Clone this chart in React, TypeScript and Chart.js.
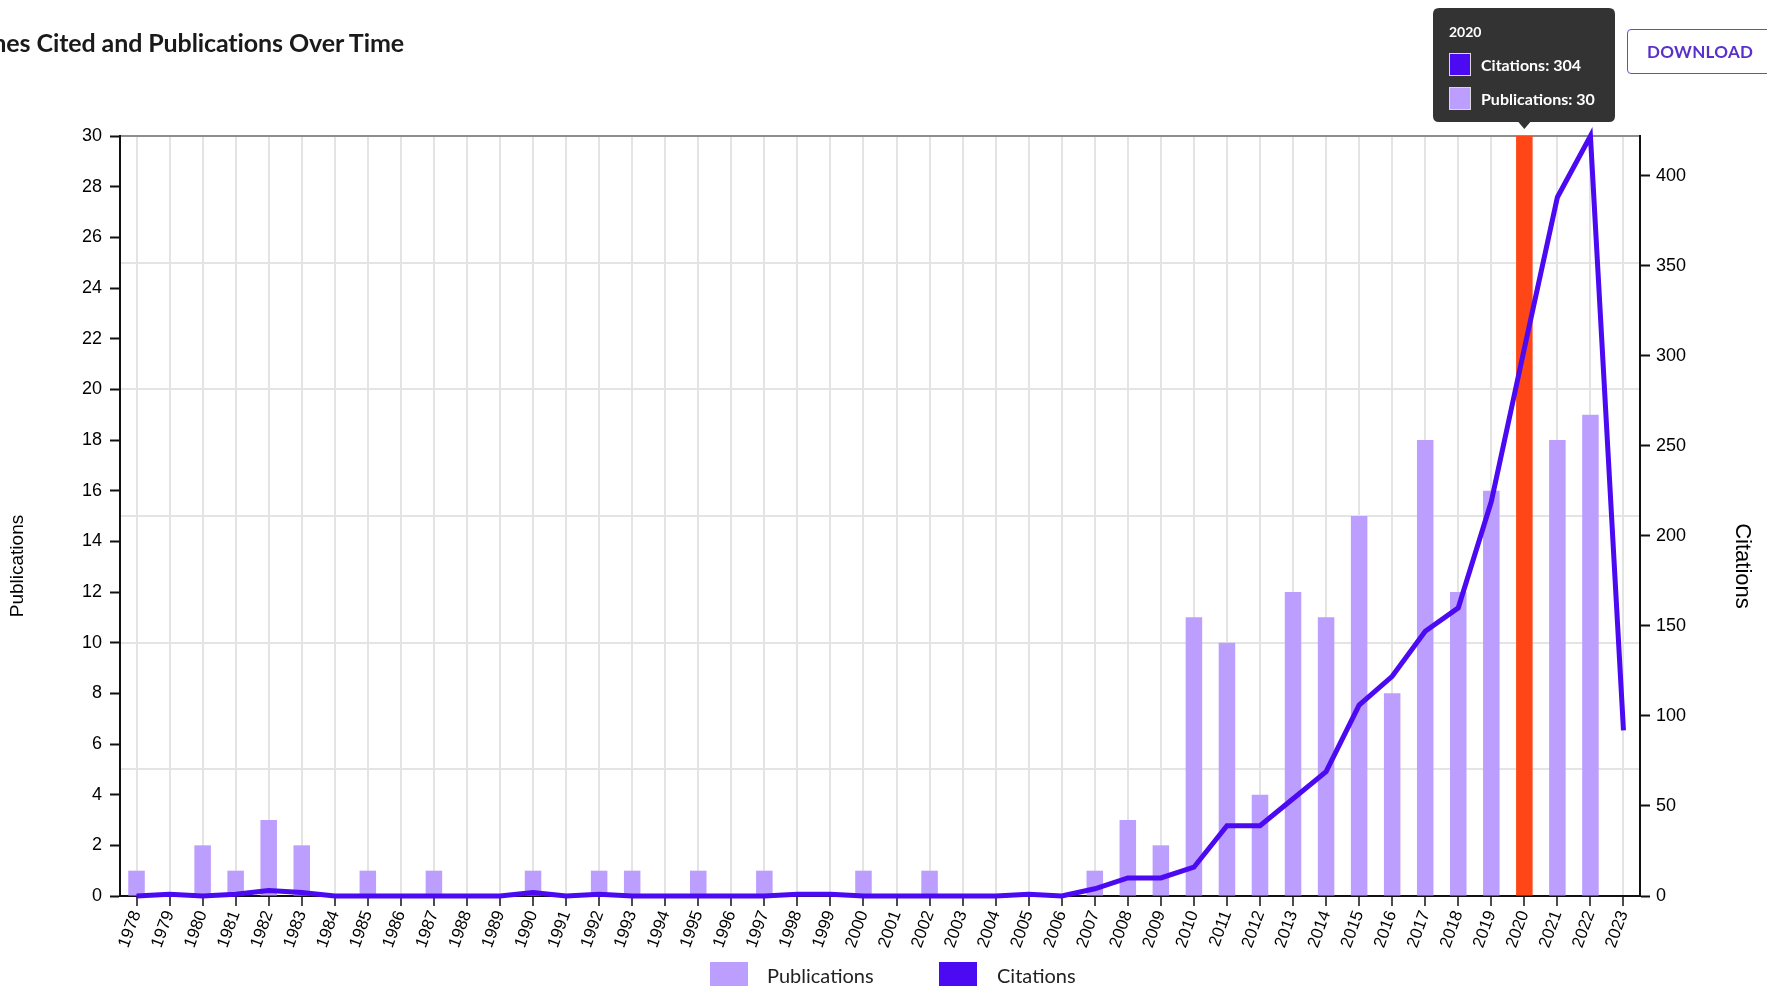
import React, { useEffect, useRef } from "react";
import { Chart, registerables } from "chart.js";

Chart.register(...registerables);

const years = [
  "1978", "1979", "1980", "1981", "1982", "1983", "1984", "1985", "1986", "1987",
  "1988", "1989", "1990", "1991", "1992", "1993", "1994", "1995", "1996", "1997",
  "1998", "1999", "2000", "2001", "2002", "2003", "2004", "2005", "2006", "2007",
  "2008", "2009", "2010", "2011", "2012", "2013", "2014", "2015", "2016", "2017",
  "2018", "2019", "2020", "2021", "2022", "2023",
];

const publications = [
  1, 0, 2, 1, 3, 2, 0, 1, 0, 1,
  0, 0, 1, 0, 1, 1, 0, 1, 0, 1,
  0, 0, 1, 0, 1, 0, 0, 0, 0, 1,
  3, 2, 11, 10, 4, 12, 11, 15, 8, 18,
  12, 16, 30, 18, 19, 0,
];

const citations = [
  0, 1, 0, 1, 3, 2, 0, 0, 0, 0,
  0, 0, 2, 0, 1, 0, 0, 0, 0, 0,
  1, 1, 0, 0, 0, 0, 0, 1, 0, 4,
  10, 10, 16, 39, 39, 54, 69, 106, 122, 147,
  160, 219, 304, 388, 422, 92,
];

const selectedYear = "2020";
const pubMax = 30;
const pubStep = 2;
const pubGridStep = 5;
const citStep = 50;

const TITLE = "Times Cited and Publications Over Time";
const PUB_COLOR = "#bc9eff";
const SEL_COLOR = "#ff4616";
const CIT_COLOR = "#4b0af2";

const overlayPlugin = {
  id: "overlay",
  afterDraw(chart: any) {
    const ctx = chart.ctx;
    ctx.save();
    // axis titles
    ctx.fillStyle = "#000";
    ctx.textAlign = "center";
    ctx.textBaseline = "middle";
    ctx.font = "19px 'Liberation Sans', Arial, sans-serif";
    ctx.save();
    ctx.translate(18, 566);
    ctx.rotate(-Math.PI / 2);
    ctx.fillText("Publications", 0, 0);
    ctx.restore();
    ctx.font = "22px 'Liberation Sans', Arial, sans-serif";
    ctx.save();
    ctx.translate(1742, 566);
    ctx.rotate(Math.PI / 2);
    ctx.fillText("Citations", 0, 0);
    ctx.restore();

    // legend
    ctx.textAlign = "left";
    ctx.textBaseline = "alphabetic";
    ctx.font = "20px Lato, 'Noto Sans', sans-serif";
    ctx.fillStyle = PUB_COLOR;
    ctx.fillRect(710, 962, 38, 30);
    ctx.fillStyle = "#222";
    ctx.fillText("Publications", 767, 983);
    ctx.fillStyle = CIT_COLOR;
    ctx.fillRect(939, 962, 38, 30);
    ctx.fillStyle = "#222";
    ctx.fillText("Citations", 997, 983);

    // tooltip for selected year
    const idx = years.indexOf(selectedYear);
    const cx = chart.scales.x.getPixelForValue(idx);
    const w = 182;
    const h = 114;
    const left = Math.round(cx - w / 2);
    const top = 8;
    const r = 6;
    ctx.fillStyle = "#333333";
    ctx.beginPath();
    ctx.moveTo(left + r, top);
    ctx.lineTo(left + w - r, top);
    ctx.quadraticCurveTo(left + w, top, left + w, top + r);
    ctx.lineTo(left + w, top + h - r);
    ctx.quadraticCurveTo(left + w, top + h, left + w - r, top + h);
    ctx.lineTo(cx + 6, top + h);
    ctx.lineTo(cx, top + h + 7);
    ctx.lineTo(cx - 6, top + h);
    ctx.lineTo(left + r, top + h);
    ctx.quadraticCurveTo(left, top + h, left, top + h - r);
    ctx.lineTo(left, top + r);
    ctx.quadraticCurveTo(left, top, left + r, top);
    ctx.closePath();
    ctx.fill();

    ctx.fillStyle = "#fff";
    ctx.font = "bold 14px Lato, 'Noto Sans', sans-serif";
    ctx.fillText(selectedYear, left + 16, top + 29);
    const rows = [
      { color: CIT_COLOR, text: "Citations: " + citations[idx], y: top + 45 },
      { color: PUB_COLOR, text: "Publications: " + publications[idx], y: top + 79 },
    ];
    ctx.font = "bold 16px Lato, 'Noto Sans', sans-serif";
    rows.forEach((row) => {
      ctx.fillStyle = row.color;
      ctx.fillRect(left + 16, row.y, 22, 23);
      ctx.strokeStyle = "#d8d8d8";
      ctx.lineWidth = 1;
      ctx.strokeRect(left + 16.5, row.y + 0.5, 21, 22);
      ctx.fillStyle = "#fff";
      ctx.fillText(row.text, left + 48, row.y + 18);
    });
    ctx.restore();
  },
};

export default function App() {
  const canvasRef = useRef<HTMLCanvasElement | null>(null);

  useEffect(() => {
    document.body.style.margin = "0";
    const canvas = canvasRef.current;
    if (!canvas) return;
    const selIdx = years.indexOf(selectedYear);
    const chart = new Chart(canvas, {
      type: "bar",
      data: {
        labels: years,
        datasets: [
          {
            type: "line",
            label: "Citations",
            data: citations,
            yAxisID: "y1",
            borderColor: CIT_COLOR,
            backgroundColor: CIT_COLOR,
            borderWidth: 5,
            pointRadius: 0,
            pointHoverRadius: 0,
            tension: 0,
            clip: false,
            order: 0,
          } as any,
          {
            type: "bar",
            label: "Publications",
            data: publications,
            yAxisID: "y",
            backgroundColor: years.map((_, i) => (i === selIdx ? SEL_COLOR : PUB_COLOR)),
            barPercentage: 0.5,
            categoryPercentage: 1,
            order: 1,
          },
        ],
      },
      options: {
        responsive: false,
        maintainAspectRatio: false,
        animation: false,
        events: [],
        layout: { padding: { top: 136, bottom: 30, left: 0, right: 0 } },
        plugins: {
          legend: { display: false },
          tooltip: { enabled: false },
        },
        scales: {
          x: {
            type: "category",
            offset: true,
            grid: {
              offset: false,
              color: "#e4e4e4",
              lineWidth: 2,
              tickColor: "#111",
              tickWidth: 1.5,
              tickLength: 10,
            },
            border: { color: "#111", width: 2 },
            ticks: {
              autoSkip: false,
              minRotation: 70,
              maxRotation: 70,
              padding: 2,
              color: "#000",
              font: { family: "'Liberation Sans', Arial, sans-serif", size: 17 },
            },
            afterFit: (s: any) => {
              s.height = 60;
            },
          },
          y: {
            type: "linear",
            position: "left",
            min: 0,
            max: pubMax,
            ticks: {
              stepSize: pubStep,
              padding: 8,
              color: "#000",
              font: { family: "'Liberation Sans', Arial, sans-serif", size: 18 },
            },
            grid: {
              drawOnChartArea: false,
              tickLength: 10,
              tickColor: "#111",
              tickWidth: 2,
            },
            border: { color: "#111", width: 2 },
            afterFit: (s: any) => {
              s.width = 120;
            },
          },
          yg: {
            type: "linear",
            position: "left",
            min: 0,
            max: pubMax,
            ticks: { display: false, stepSize: pubGridStep },
            grid: {
              drawTicks: false,
              lineWidth: 2,
              color: (c: any) =>
                c.tick && c.tick.value === pubMax
                  ? "#8e8e8e"
                  : c.tick && c.tick.value === 0
                  ? "rgba(0,0,0,0)"
                  : "#e4e4e4",
            },
            border: { display: false },
            afterFit: (s: any) => {
              s.width = 0;
            },
          },
          y1: {
            type: "linear",
            position: "right",
            min: 0,
            max: Math.max(...citations),
            ticks: {
              stepSize: citStep,
              includeBounds: false,
              padding: 6,
              color: "#000",
              font: { family: "'Liberation Sans', Arial, sans-serif", size: 18 },
            },
            grid: {
              drawOnChartArea: false,
              tickLength: 10,
              tickColor: "#111",
              tickWidth: 2,
            },
            border: { color: "#111", width: 2 },
            afterFit: (s: any) => {
              s.width = 127;
            },
          },
        },
      } as any,
      plugins: [overlayPlugin],
    });
    return () => {
      chart.destroy();
    };
  }, []);

  return (
    <div
      style={{
        position: "relative",
        width: 1767,
        height: 986,
        overflow: "hidden",
        background: "#fff",
      }}
    >
      <canvas
        ref={canvasRef}
        width={1767}
        height={986}
        style={{ position: "absolute", left: 0, top: 0, width: 1767, height: 986 }}
      />
      <div
        style={{
          position: "absolute",
          right: 1767 - 404,
          top: 29,
          whiteSpace: "nowrap",
          fontFamily: "Lato, 'Noto Sans', sans-serif",
          fontWeight: 700,
          fontSize: 25,
          lineHeight: "26px",
          letterSpacing: -0.1,
          color: "#1a1a1a",
        }}
      >
        {TITLE}
      </div>
      <div
        style={{
          position: "absolute",
          left: 1627,
          top: 29,
          width: 170,
          height: 45,
          boxSizing: "border-box",
          border: "1.5px solid #6c47d8",
          borderRadius: 4,
          paddingLeft: 19,
          display: "flex",
          alignItems: "center",
          fontFamily: "Lato, 'Noto Sans', sans-serif",
          fontWeight: 700,
          fontSize: 17,
          color: "#5a30cc",
          letterSpacing: 0.3,
        }}
      >
        DOWNLOAD
      </div>
    </div>
  );
}
